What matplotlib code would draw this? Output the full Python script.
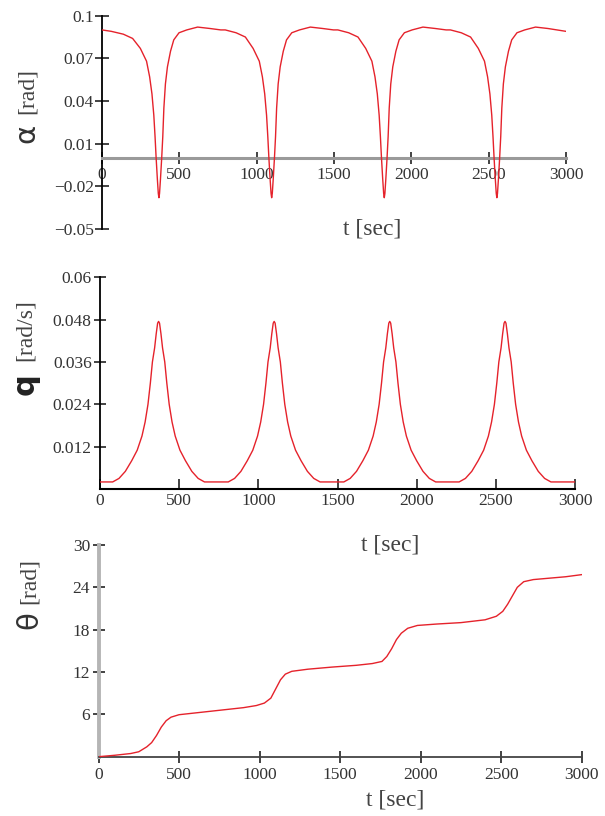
import numpy as np
import matplotlib
matplotlib.use('Agg')
import matplotlib.pyplot as plt

# angle of attack alpha [rad] vs t [sec]
alpha_t = [0, 60, 138, 198, 248, 288, 308, 323, 335, 343, 350, 358, 364, 368, 372, 378, 386, 393, 400, 410,
           423, 443, 464, 498, 548, 618, 698, 768,
           797, 867, 927, 977, 1017, 1037, 1052, 1064, 1072, 1079, 1087, 1093, 1097, 1101, 1107, 1115, 1122,
           1129, 1139, 1152, 1172, 1193, 1227, 1277, 1347, 1427, 1497,
           1525, 1595, 1655, 1705, 1745, 1765, 1780, 1792, 1800, 1807, 1815, 1821, 1825, 1829, 1835, 1843, 1850,
           1857, 1867, 1880, 1900, 1921, 1955, 2005, 2075, 2155, 2225,
           2253, 2323, 2383, 2433, 2473, 2493, 2508, 2520, 2528, 2535, 2543, 2549, 2553, 2557, 2563, 2571, 2578,
           2585, 2595, 2608, 2628, 2649, 2683, 2733, 2803, 2883, 3000]
alpha_v = [0.090, 0.089, 0.087, 0.084, 0.077, 0.068, 0.057, 0.045, 0.030, 0.015, 0.000, -0.015, -0.025, -0.028,
           -0.025, -0.015, 0.000, 0.015, 0.035, 0.052, 0.064, 0.075, 0.083, 0.088, 0.090, 0.092, 0.091, 0.090,
           0.090, 0.088, 0.085, 0.077, 0.068, 0.057, 0.045, 0.030, 0.015, 0.000, -0.015, -0.025, -0.028, -0.025,
           -0.015, 0.000, 0.015, 0.035, 0.052, 0.064, 0.075, 0.083, 0.088, 0.090, 0.092, 0.091, 0.090,
           0.090, 0.088, 0.085, 0.077, 0.068, 0.057, 0.045, 0.030, 0.015, 0.000, -0.015, -0.025, -0.028, -0.025,
           -0.015, 0.000, 0.015, 0.035, 0.052, 0.064, 0.075, 0.083, 0.088, 0.090, 0.092, 0.091, 0.090,
           0.090, 0.088, 0.085, 0.077, 0.068, 0.057, 0.045, 0.030, 0.015, 0.000, -0.015, -0.025, -0.028, -0.025,
           -0.015, 0.000, 0.015, 0.035, 0.052, 0.064, 0.075, 0.083, 0.088, 0.090, 0.092, 0.091, 0.089]

# pitch rate q [rad/s]
q_t = [0, 80, 120, 160, 200, 235, 265, 285, 303, 318, 331, 345, 355, 364, 370, 376, 385, 395, 409, 422, 437, 455,
       475, 505, 540, 580, 620, 660,
       810, 850, 890, 930, 965, 995, 1015, 1033, 1048, 1061, 1075, 1085, 1094, 1100, 1106, 1115, 1125, 1139, 1152,
       1167, 1185, 1205, 1235, 1270, 1310, 1350, 1390,
       1540, 1580, 1620, 1660, 1695, 1725, 1745, 1763, 1778, 1791, 1805, 1815, 1824, 1830, 1836, 1845, 1855, 1869,
       1882, 1897, 1915, 1935, 1965, 2000, 2040, 2080, 2120,
       2268, 2308, 2348, 2388, 2423, 2453, 2473, 2491, 2506, 2519, 2533, 2543, 2552, 2558, 2564, 2573, 2583, 2597,
       2610, 2625, 2643, 2663, 2693, 2728, 2768, 2808, 2848, 3000]
q_v = [0.002, 0.002, 0.003, 0.005, 0.008, 0.011, 0.015, 0.019, 0.024, 0.030, 0.036, 0.040, 0.044, 0.047, 0.0475,
       0.047, 0.044, 0.040, 0.036, 0.030, 0.024, 0.019, 0.015, 0.011, 0.008, 0.005, 0.003, 0.002,
       0.002, 0.003, 0.005, 0.008, 0.011, 0.015, 0.019, 0.024, 0.030, 0.036, 0.040, 0.044, 0.047, 0.0475, 0.047,
       0.044, 0.040, 0.036, 0.030, 0.024, 0.019, 0.015, 0.011, 0.008, 0.005, 0.003, 0.002,
       0.002, 0.003, 0.005, 0.008, 0.011, 0.015, 0.019, 0.024, 0.030, 0.036, 0.040, 0.044, 0.047, 0.0475, 0.047,
       0.044, 0.040, 0.036, 0.030, 0.024, 0.019, 0.015, 0.011, 0.008, 0.005, 0.003, 0.002,
       0.002, 0.003, 0.005, 0.008, 0.011, 0.015, 0.019, 0.024, 0.030, 0.036, 0.040, 0.044, 0.047, 0.0475, 0.047,
       0.044, 0.040, 0.036, 0.030, 0.024, 0.019, 0.015, 0.011, 0.008, 0.005, 0.003, 0.002, 0.002]

# pitch angle theta [rad]
theta_t = [0, 100, 200, 250, 300, 330, 360, 390, 420, 450, 500, 600, 700, 800, 900, 980, 1030, 1070, 1100, 1130,
           1160, 1200, 1300, 1450, 1600, 1700, 1760, 1790, 1820, 1850, 1880, 1920, 1980, 2100, 2250, 2400, 2470,
           2510, 2540, 2570, 2600, 2640, 2700, 2800, 2900, 3000]
theta_v = [0, 0.2, 0.45, 0.7, 1.4, 2.0, 3.0, 4.2, 5.1, 5.6, 5.95, 6.2, 6.45, 6.7, 6.95, 7.25, 7.6, 8.3, 9.6, 10.9,
           11.7, 12.1, 12.4, 12.7, 12.95, 13.2, 13.5, 14.2, 15.3, 16.6, 17.5, 18.2, 18.6, 18.8, 19.0, 19.4, 19.9,
           20.6, 21.6, 22.8, 24.0, 24.8, 25.1, 25.3, 25.5, 25.8]

x_ticks = [0, 500, 1000, 1500, 2000, 2500, 3000]
alpha_ticks = [0.1, 0.07, 0.04, 0.01, -0.02, -0.05]
alpha_labels = ['0.1', '0.07', '0.04', '0.01', '\u22120.02', '\u22120.05']
q_ticks = [0.012, 0.024, 0.036, 0.048, 0.06]
q_labels = ['0.012', '0.024', '0.036', '0.048', '0.06']
theta_ticks = [6, 12, 18, 24, 30]

W, H = 605, 816
red = '#e5222b'
tickfont = dict(family='Liberation Serif', size=12.5)
labfont = dict(family='Liberation Serif', size=17, color='#444')

fig = plt.figure(figsize=(W / 100, H / 100), dpi=100)


def fx(x):
    return x / W


def fy(y):
    return 1 - y / H


def style(ax):
    for s in ['top', 'right']:
        ax.spines[s].set_visible(False)
    ax.set_xlim(0, 3000)
    ax.set_xticks(x_ticks)
    ax.set_xticklabels([str(v) for v in x_ticks], fontdict=tickfont, color='#333')
    ax.patch.set_alpha(0)


# alpha
ax1 = fig.add_axes([fx(102), fy(229), fx(464), 213.3 / H])
ax1.spines['bottom'].set_position(('data', 0))
style(ax1)
ax1.plot(alpha_t, alpha_v, color=red, lw=1.0, zorder=5)
ax1.set_ylim(-0.05, 0.1)
ax1.spines['bottom'].set_color('#9a9a9a')
ax1.spines['bottom'].set_linewidth(2.2)
ax1.spines['left'].set_linewidth(1.3)
ax1.set_yticks(alpha_ticks)
ax1.set_yticklabels(alpha_labels, fontdict=tickfont, color='#333')
ax1.tick_params(axis='x', direction='inout', length=9, width=1.2, color='#222', pad=2)
ax1.tick_params(axis='y', direction='inout', length=10, width=1.2, color='#222', pad=1)

# q
ax2 = fig.add_axes([fx(100), fy(489), fx(475), 211.7 / H])
style(ax2)
ax2.plot(q_t, q_v, color=red, lw=1.0, zorder=5)
ax2.set_ylim(0, 0.06)
ax2.spines['bottom'].set_linewidth(1.5)
ax2.spines['left'].set_linewidth(1.3)
ax2.set_yticks(q_ticks)
ax2.set_yticklabels(q_labels, fontdict=tickfont, color='#333')
ax2.tick_params(axis='x', direction='in', length=7, width=1.2, color='#222', pad=3)
ax2.tick_params(axis='y', direction='inout', length=9, width=1.2, color='#222', pad=1.5)

# theta
ax3 = fig.add_axes([fx(98.5), fy(756.7), fx(483.2), 211.7 / H])
style(ax3)
ax3.plot(theta_t, theta_v, color=red, lw=1.0, zorder=5)
ax3.set_ylim(0, 30)
ax3.spines['left'].set_color('#b5b5b5')
ax3.spines['left'].set_linewidth(2.8)
ax3.spines['bottom'].set_color('#444')
ax3.spines['bottom'].set_linewidth(1.3)
ax3.set_yticks(theta_ticks)
ax3.set_yticklabels([str(v) for v in theta_ticks], fontdict=tickfont, color='#333')
ax3.tick_params(axis='x', direction='inout', length=9, width=1.2, color='#222', pad=3)
ax3.tick_params(axis='y', direction='inout', length=9, width=1.2, color='#222', pad=1.5)

# axis titles
for x, y in [(372, 229), (390, 545), (395, 800)]:
    fig.text(fx(x), fy(y), 't [sec]', ha='center', va='center', **labfont)

fig.text(fx(26), fy(133), '\u03b1', rotation=90, ha='center', va='center',
         family='DejaVu Sans', size=21, color='#333')
fig.text(fx(27), fy(91), '[rad]', rotation=90, ha='center', va='center', **labfont)
fig.text(fx(25), fy(384), 'q', rotation=90, ha='center', va='center',
         family='DejaVu Sans', size=22, weight='bold', color='#222')
fig.text(fx(25), fy(330), '[rad/s]', rotation=90, ha='center', va='center', **labfont)
fig.text(fx(29), fy(620), '\u03b8', rotation=90, ha='center', va='center',
         family='DejaVu Sans', size=21, color='#333')
fig.text(fx(29), fy(581), '[rad]', rotation=90, ha='center', va='center', **labfont)

fig.savefig('out.png', dpi=100)
